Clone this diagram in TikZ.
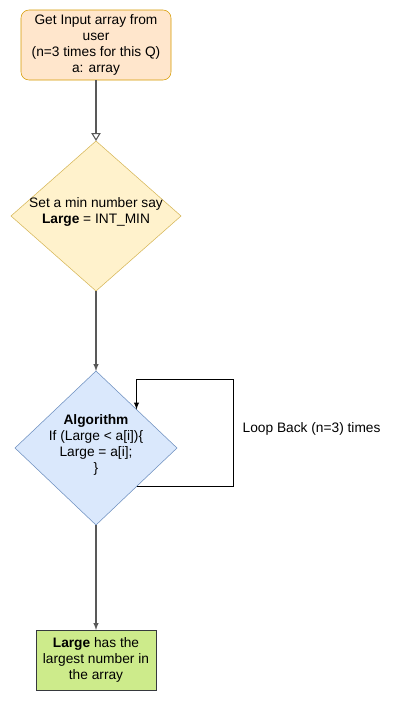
\documentclass[tikz,border=0pt]{standalone}
\usepackage{fontspec}
\setmainfont{Liberation Sans}
\usepackage{tikz}
\usetikzlibrary{shapes.geometric,arrows.meta}

\definecolor{inputfill}{HTML}{FFE6CC}
\definecolor{inputdraw}{HTML}{D79B00}
\definecolor{setfill}{HTML}{FFF2CC}
\definecolor{setdraw}{HTML}{D6B656}
\definecolor{algofill}{HTML}{DAE8FC}
\definecolor{algodraw}{HTML}{6C8EBF}
\definecolor{resultfill}{HTML}{CDEB8B}
\definecolor{resultdraw}{HTML}{36393D}
\definecolor{flowline}{HTML}{595959}

\begin{document}
\begin{tikzpicture}[x=0.75pt, y=-0.75pt,
    every node/.style={font=\fontsize{10.3pt}{11.8pt}\selectfont, align=center},
    decision/.style={diamond, draw, inner sep=0pt, outer sep=0pt},
    flow/.style={draw=flowline, thick, -latex}]
        \useasboundingbox[fill=white] (0,0) rectangle (404,701);

        \node[draw=inputdraw, fill=inputfill, rounded corners=6pt, minimum width=112.5pt,
              minimum height=52.5pt, inner sep=0pt, outer sep=0pt] (input) at (96,45)
              {Get Input array from\\user\\(n=3 times for this Q)\\a: array};

        \node[decision, draw=setdraw, fill=setfill, minimum width=127.5pt,
              minimum height=112.5pt] (setmin) at (96,216) {};
        \node (setmintext) at (96,212) {Set a min number say\\\textbf{Large} = INT\_MIN};

        \node[decision, draw=algodraw, fill=algofill, minimum width=121.5pt,
              minimum height=115.5pt] (algo) at (96,448) {};
        \node (algotext) at (96,445) {\textbf{Algorithm}\\If (Large < a[i])\{\\Large = a[i];\\\}};

        \node[draw=resultdraw, fill=resultfill, minimum width=90pt, minimum height=45pt,
              inner sep=0pt, outer sep=0pt] (result) at (96,660)
              {\textbf{Large} has the\\largest number in\\the array};

        \node[anchor=west] (looplabel) at (238,429) {Loop Back (n=3) times};

        \draw[draw=flowline, thick, -{Triangle[open, length=6pt, width=7pt]}] (input) -- (setmin);
        \draw[flow] (setmin) -- (algo);
        \draw[flow] (algo) -- (result);
        \draw[thick, -latex] (algo.south east) -- ++(97,0) -- ++(0,-107) -| (algo.north east);
    \end{tikzpicture}
\end{document}
